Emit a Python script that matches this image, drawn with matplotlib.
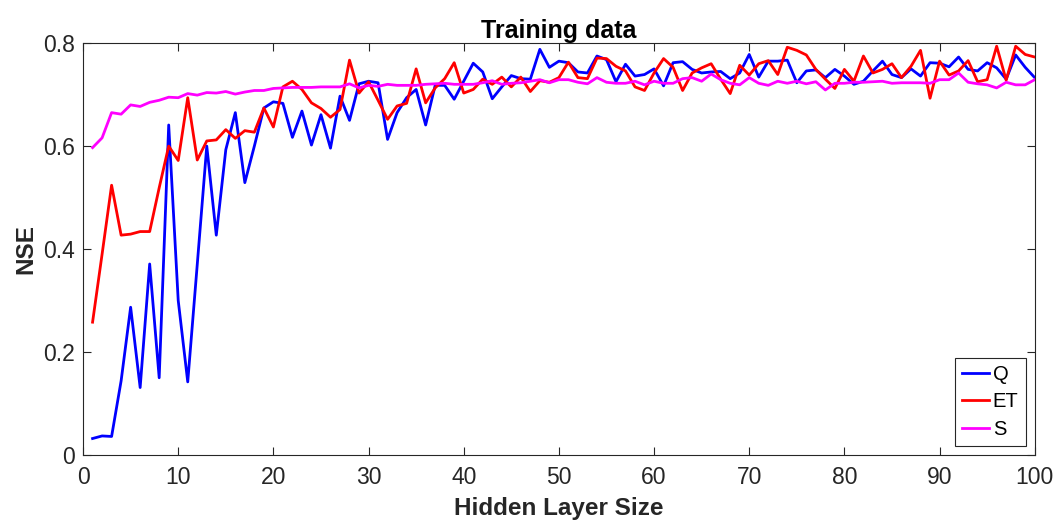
import numpy as np
import matplotlib
matplotlib.use("Agg")
import matplotlib.pyplot as plt

# hidden layer sizes 1..100
hidden = np.arange(1, 101)

# NSE on training data
nse_q = [0.032, 0.037, 0.036, 0.144, 0.287, 0.131, 0.371, 0.150, 0.641, 0.300,
         0.142, 0.370, 0.600, 0.427, 0.593, 0.665, 0.529, 0.600, 0.674, 0.686,
         0.683, 0.617, 0.668, 0.602, 0.661, 0.596, 0.697, 0.650, 0.721, 0.726,
         0.723, 0.613, 0.665, 0.694, 0.710, 0.641, 0.718, 0.718, 0.691, 0.726,
         0.761, 0.744, 0.692, 0.715, 0.737, 0.731, 0.730, 0.788, 0.753, 0.765,
         0.762, 0.744, 0.742, 0.775, 0.768, 0.725, 0.759, 0.736, 0.739, 0.750,
         0.717, 0.762, 0.764, 0.749, 0.742, 0.744, 0.745, 0.731, 0.742, 0.778,
         0.734, 0.765, 0.765, 0.767, 0.723, 0.746, 0.748, 0.733, 0.749, 0.736,
         0.720, 0.726, 0.746, 0.765, 0.739, 0.733, 0.750, 0.736, 0.762, 0.761,
         0.754, 0.773, 0.749, 0.746, 0.762, 0.752, 0.730, 0.777, 0.753, 0.733]

nse_et = [0.258, 0.390, 0.524, 0.427, 0.429, 0.434, 0.434, 0.519, 0.600, 0.572,
          0.694, 0.573, 0.610, 0.612, 0.632, 0.615, 0.630, 0.627, 0.674, 0.637,
          0.715, 0.726, 0.710, 0.684, 0.673, 0.656, 0.671, 0.767, 0.703, 0.725,
          0.689, 0.652, 0.678, 0.683, 0.750, 0.684, 0.713, 0.731, 0.762, 0.703,
          0.710, 0.730, 0.720, 0.734, 0.715, 0.734, 0.706, 0.727, 0.724, 0.733,
          0.763, 0.733, 0.731, 0.771, 0.770, 0.755, 0.746, 0.715, 0.708, 0.742,
          0.770, 0.753, 0.708, 0.742, 0.752, 0.760, 0.730, 0.702, 0.757, 0.738,
          0.760, 0.766, 0.739, 0.792, 0.786, 0.777, 0.749, 0.730, 0.712, 0.749,
          0.726, 0.775, 0.742, 0.749, 0.760, 0.733, 0.755, 0.786, 0.693, 0.765,
          0.738, 0.746, 0.766, 0.725, 0.729, 0.794, 0.728, 0.794, 0.778, 0.773]

nse_s = [0.597, 0.616, 0.665, 0.662, 0.680, 0.677, 0.685, 0.689, 0.695, 0.694,
         0.702, 0.699, 0.704, 0.703, 0.706, 0.701, 0.705, 0.708, 0.708, 0.712,
         0.713, 0.714, 0.714, 0.714, 0.715, 0.715, 0.715, 0.721, 0.713, 0.718,
         0.716, 0.720, 0.718, 0.718, 0.718, 0.720, 0.721, 0.722, 0.720, 0.720,
         0.720, 0.723, 0.727, 0.720, 0.722, 0.723, 0.726, 0.729, 0.723, 0.729,
         0.729, 0.724, 0.721, 0.733, 0.724, 0.722, 0.722, 0.726, 0.719, 0.726,
         0.722, 0.722, 0.731, 0.733, 0.726, 0.740, 0.729, 0.722, 0.719, 0.733,
         0.722, 0.718, 0.726, 0.722, 0.726, 0.721, 0.725, 0.709, 0.722, 0.722,
         0.724, 0.724, 0.725, 0.726, 0.722, 0.723, 0.723, 0.723, 0.722, 0.729,
         0.729, 0.742, 0.724, 0.721, 0.719, 0.713, 0.724, 0.719, 0.719, 0.729]

plt.rcParams['font.family'] = ['Liberation Sans', 'DejaVu Sans']

fig = plt.figure(figsize=(10.58, 5.26), dpi=100)
ax = fig.add_axes([0.0785, 0.135, 0.8995, 0.783])

ax.plot(hidden, nse_q, color='#0000ff', lw=2, label='Q')
ax.plot(hidden, nse_et, color='#ff0000', lw=2, label='ET')
ax.plot(hidden, nse_s, color='#ff00ff', lw=2, label='S')

ax.set_xlim(0, 100)
ax.set_ylim(0, 0.8)
ax.set_xticks(np.arange(0, 101, 10))
ax.set_yticks([0, 0.2, 0.4, 0.6, 0.8])
ax.set_yticklabels(['0', '0.2', '0.4', '0.6', '0.8'])

# MATLAB-like axes: ticks inside on all four sides
ax.tick_params(direction='in', top=True, right=True, length=6, width=0.8,
               labelsize=16.5, colors='#262626')
ax.tick_params(axis='x', pad=8)
ax.tick_params(axis='y', pad=6)
for s in ax.spines.values():
    s.set_color('#262626')
    s.set_linewidth(0.8)

ax.set_xlabel('Hidden Layer Size', fontsize=17.5, fontweight='bold', color='#262626', labelpad=6)
ax.set_ylabel('NSE', fontsize=17.5, fontweight='bold', color='#262626', labelpad=4)
ax.set_title('Training data', fontsize=18, fontweight='bold', color='black', pad=4)

leg = ax.legend(loc='lower right', fontsize=14.5, fancybox=False, framealpha=1,
                edgecolor='#262626', handlelength=1.35, handletextpad=0.2,
                borderpad=0.35, labelspacing=0.42, borderaxespad=0.45)
leg.get_frame().set_linewidth(0.8)

fig.savefig('out.png', dpi=100)
